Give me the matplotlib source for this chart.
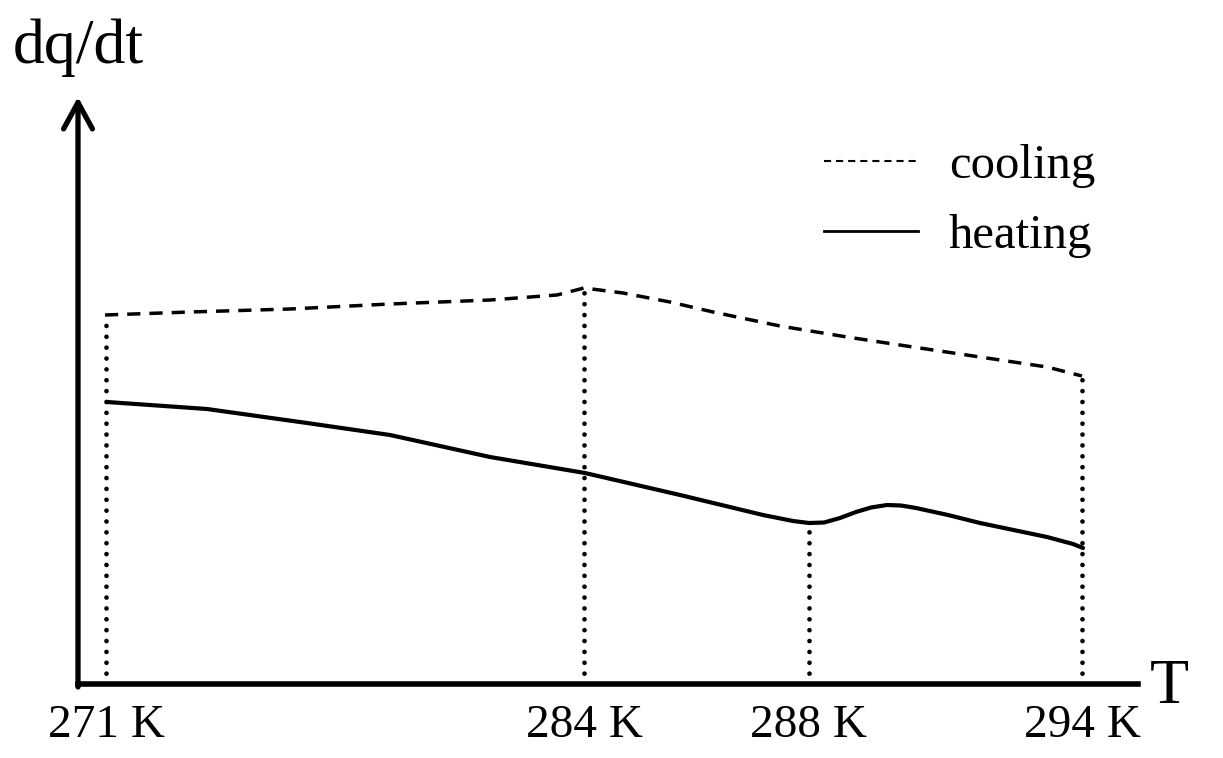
import matplotlib
matplotlib.use("Agg")
import matplotlib.pyplot as plt
from matplotlib.lines import Line2D

plt.rcParams.update({
    "font.family": "Liberation Serif",
    "font.size": 34,
})

# schematic units (arbitrary): x = position along T axis, y = dq/dt
cooling_x = [2.7, 11.2, 21.2, 31.2, 41.2, 47.9, 50.6, 54.5, 59.2, 63.5,
             70.2, 76.9, 83.5, 90.2, 96.9, 100.4]
cooling_y = [36.9, 37.2, 37.5, 38.0, 38.4, 38.9, 39.6, 39.1, 38.2, 37.2,
             35.8, 34.7, 33.7, 32.7, 31.7, 30.8]

heating_x = [2.9, 12.9, 22.9, 31.2, 41.2, 50.7, 60.2, 68.5, 71.5, 73.1, 74.6,
             76.2, 77.8, 79.3, 80.9, 82.3, 83.8, 87.0, 90.2, 96.9, 99.5, 100.5]
heating_y = [28.2, 27.5, 26.1, 24.9, 22.7, 21.1, 18.9, 16.9, 16.3, 16.1, 16.15,
             16.6, 17.2, 17.65, 17.9, 17.85, 17.6, 16.9, 16.1, 14.7, 14.0, 13.6]

marker_x = [2.8, 50.6, 73.1, 100.4]
marker_top = [36.9, 39.6, 16.1, 30.8]
marker_labels = ["271 K", "284 K", "288 K", "294 K"]

fig = plt.figure(figsize=(12.23, 7.58), dpi=100)
ax = fig.add_axes([78 / 1223, 74 / 758, 1060 / 1223, 587 / 758])
ax.set_xlim(0, 106)
ax.set_ylim(0, 58.7)

for side in ("top", "right", "left"):
    ax.spines[side].set_visible(False)
ax.spines["bottom"].set_linewidth(4.0)

# y axis drawn as an open-headed arrow
ax.annotate("", xy=(0, 58.7), xytext=(0, -0.3),
            arrowprops=dict(arrowstyle="->,head_length=0.95,head_width=0.52",
                            mutation_scale=20, lw=3.8, color="black",
                            shrinkA=0, shrinkB=0, capstyle="round"),
            annotation_clip=False)

ax.vlines(marker_x, 0, marker_top, colors="black", lw=3.4,
          linestyles=[(0, (0.001, 2.3))], capstyle="round")

ax.plot(cooling_x, cooling_y, color="black", lw=2.5,
        linestyle=(0, (3.8, 2.6)), solid_joinstyle="round")
ax.plot(heating_x, heating_y, color="black", lw=3.0,
        solid_joinstyle="round", solid_capstyle="round")

ax.set_xticks(marker_x, labels=marker_labels)
ax.tick_params(axis="x", length=0, pad=15)
ax.set_yticks([])

ax.text(-6.5, 62.1, "dq/dt", fontsize=46, ha="left", va="baseline", clip_on=False)
ax.text(107.2, -1.9, "T", fontsize=46, ha="left", va="baseline", clip_on=False)

handles = [
    Line2D([], [], color="black", lw=1.5, linestyle=(0, (3.4, 2.4))),
    Line2D([], [], color="black", lw=2.0),
]
ax.legend(handles, ["cooling", "heating"], loc="upper right",
          bbox_to_anchor=(1095 / 1223, 1 - 144 / 758), bbox_transform=fig.transFigure,
          frameon=False, fontsize=35, handlelength=1.93, handletextpad=0.64,
          labelspacing=0.54, borderpad=0, borderaxespad=0)

fig.savefig("out.png", dpi=100)
